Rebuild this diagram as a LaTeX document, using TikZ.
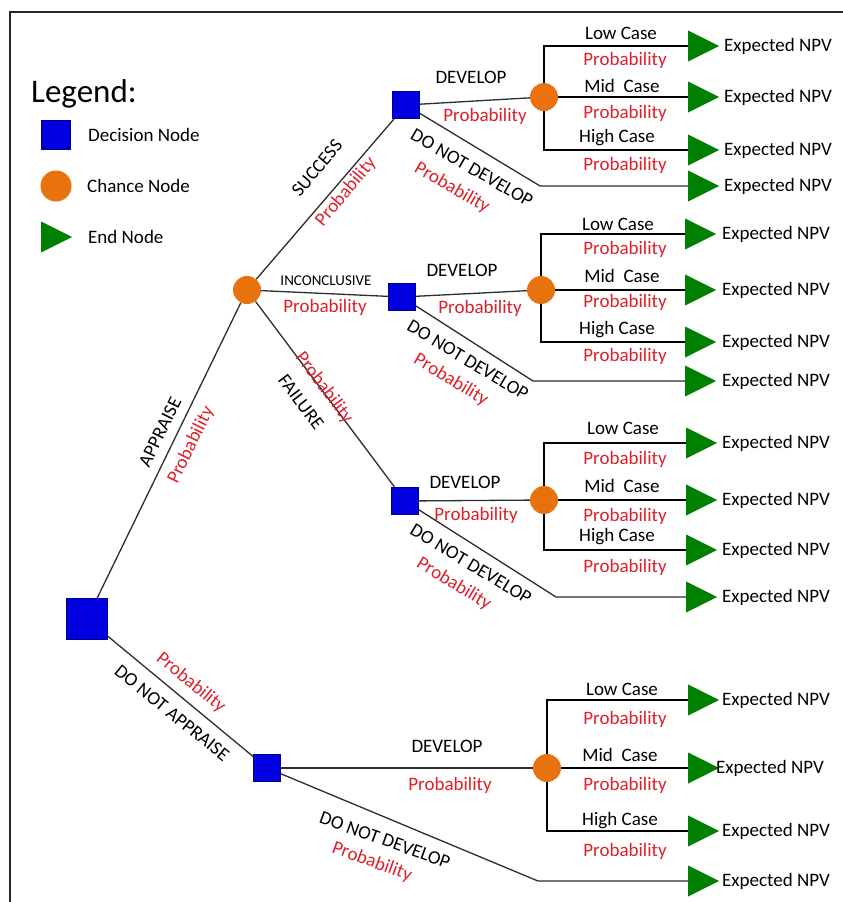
\documentclass[tikz,border=0pt]{standalone}
\usepackage{fontspec}
\setmainfont{Carlito}
\usetikzlibrary{shapes.geometric}
\definecolor{decblue}{RGB}{0,0,225}
\definecolor{chorange}{RGB}{232,114,14}
\definecolor{endgreen}{RGB}{0,128,0}
\definecolor{probred}{RGB}{222,32,42}
\definecolor{linegray}{RGB}{45,45,45}
\begin{document}
\begin{tikzpicture}[x=1pt,y=-1pt,
  decn/.style={rectangle, fill=decblue, draw=decblue!60!black, line width=0.8pt, minimum size=27pt, inner sep=0pt},
  chn/.style={circle, fill=chorange, minimum size=28pt, inner sep=0pt},
  endn/.style={isosceles triangle, isosceles triangle stretches, fill=endgreen, minimum width=31pt, minimum height=31pt, inner sep=0pt, anchor=lower side},
  lnA/.style={line width=1.3pt, draw=linegray},
  lnB/.style={line width=2pt, draw=black},
  lbl/.style={font=\fontsize{19}{22}\selectfont, inner sep=0pt},
  prb/.style={lbl, text=probred},
  npv/.style={lbl, anchor=west}]
\useasboundingbox (0,0) rectangle (843,902);
\fill[white] (0,0) rectangle (843,902);
% frame
\draw[line width=1.8pt, black!85] (10,902) -- (10,12) -- (843,12);

% legend
\node[lbl, font=\fontsize{33}{36}\selectfont, anchor=west] (legend) at (31,94) {Legend:};
\node[decn, minimum size=29pt] (lgd) at (56,135) {};
\node[npv] (lgdt) at (88,135) {Decision Node};
\node[chn, minimum size=31pt] (lgc) at (56,186) {};
\node[npv] (lgct) at (87,186) {Chance Node};
\node[endn] (lge) at (41,237) {};
\node[npv] (lget) at (88,237) {End Node};

% decision and chance nodes
\node[decn, minimum size=41pt] (root) at (87,619) {};
\node[chn] (c0) at (247,290) {};
\node[decn] (d1) at (406,105) {};
\node[decn] (d2) at (402,297) {};
\node[decn] (d3) at (405,501) {};
\node[decn] (d5) at (267,768) {};
\node[chn] (c1) at (544,97) {};
\node[chn] (c2) at (541,290) {};
\node[chn] (c3) at (544,500) {};
\node[chn] (c4) at (547,768) {};

% knees
\coordinate (k1) at (540,186);
\coordinate (k2) at (533,381);
\coordinate (k3) at (556,597);
\coordinate (k4) at (538,881);

% end nodes
\node[endn] (t11) at (688,46) {};
\node[endn] (t12) at (688,97) {};
\node[endn] (t13) at (688,150) {};
\node[endn] (t14) at (688,186) {};
\node[endn] (t21) at (685,234) {};
\node[endn] (t22) at (685,290) {};
\node[endn] (t23) at (685,342) {};
\node[endn] (t24) at (685,381) {};
\node[endn] (t31) at (686,443) {};
\node[endn] (t32) at (686,500) {};
\node[endn] (t33) at (686,550) {};
\node[endn] (t34) at (686,597) {};
\node[endn] (t41) at (688,700) {};
\node[endn] (t42) at (688,768) {};
\node[endn] (t43) at (688,831) {};
\node[endn] (t44) at (688,881) {};

% connectors
\draw[lnA] (root) -- (c0);
\draw[lnA] (root) -- (d5);
\draw[lnA] (c0) -- (d1);
\draw[lnA] (c0) -- (d2);
\draw[lnA] (c0) -- (d3);
\draw[lnA] (d1) -- (c1);
\draw[lnA] (d2) -- (c2);
\draw[lnA] (d3) -- (c3);
\draw[lnA] (d5) -- (c4);
\draw[lnA] (d1) -- (k1) -- (t14.lower side);
\draw[lnA] (d2) -- (k2) -- (t24.lower side);
\draw[lnA] (d3) -- (k3) -- (t34.lower side);
\draw[lnA] (d5) -- (k4) -- (t44.lower side);
\foreach \c in {1,2,3,4}{
  \draw[lnB] (c\c) |- (t\c1.lower side);
  \draw[lnB] (c\c) -- (t\c2.lower side);
  \draw[lnB] (c\c) |- (t\c3.lower side);
}

% black labels
\foreach \x/\y/\r/\t [count=\i] in {
  160/432/64/APPRAISE, 317/168/50/SUCCESS, 301/402/-53/FAILURE,
  172/713/-39/DO NOT APPRAISE,
  472/168/-30/DO NOT DEVELOP, 468/360/-31/DO NOT DEVELOP,
  471/564/-31/DO NOT DEVELOP, 385/840/-20/DO NOT DEVELOP,
  471/77/0/DEVELOP, 462/270/0/DEVELOP, 465/482/0/DEVELOP, 447/746/0/DEVELOP,
  621/33/0/Low Case, 622/86/0/Mid\ \ Case, 617/138/0/High Case,
  618/224/0/Low Case, 622/276/0/Mid\ \ Case, 617/330/0/High Case,
  623/428/0/Low Case, 622/486/0/Mid\ \ Case, 617/537/0/High Case,
  622/689/0/Low Case, 620/755/0/Mid\ \ Case, 620/821/0/High Case}
  \node[lbl, rotate=\r] (lb\i) at (\x,\y) {\t};
\node[lbl, font=\fontsize{15}{17}\selectfont] (linc) at (326,281) {INCONCLUSIVE};

% probability labels
\foreach \x/\y/\r [count=\i] in {
  191/445/64, 346/192/50, 325/307/0, 324/388/-53, 191/683/-39,
  485/116/0, 480/308/0, 476/515/0, 450/785/0,
  452/188/-30, 451/380/-31, 454/584/-31, 372/862/-20,
  625/60/0, 625/113/0, 625/165/0,
  625/249/0, 625/302/0, 625/356/0,
  625/459/0, 625/516/0, 625/567/0,
  625/719/0, 625/785/0, 625/851/0}
  \node[prb, rotate=\r] (pb\i) at (\x,\y) {Probability};

% expected NPV labels
\foreach \x/\y [count=\i] in {
  724/46, 724/97, 724/150, 724/186,
  722/234, 722/290, 722/342, 722/381,
  722/443, 722/500, 722/550, 722/597,
  722/700, 716/768, 722/831, 722/881}
  \node[npv] (np\i) at (\x,\y) {Expected NPV};
\end{tikzpicture}
\end{document}
